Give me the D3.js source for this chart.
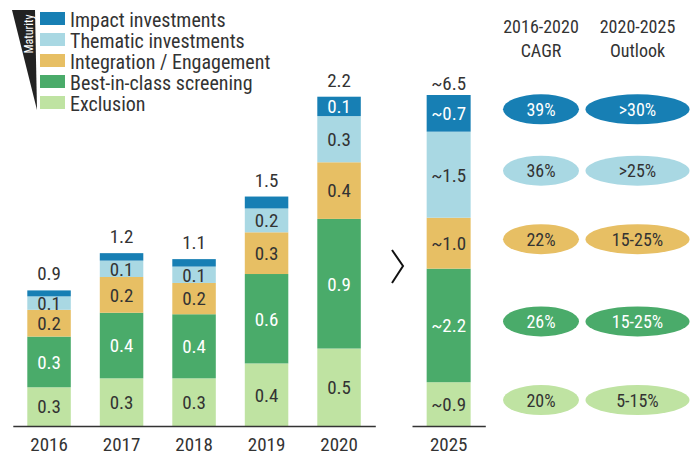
<!DOCTYPE html>
<html>
<head>
<meta charset="utf-8">
<script src="https://cdn.jsdelivr.net/npm/d3@7"></script>
<style>
  body { margin: 0; background: #fff; }
  svg text { font-family: "Roboto Condensed", "Liberation Sans Narrow", "Roboto", sans-serif; }
</style>
</head>
<body>
<svg id="chart"></svg>
<script>
var width = 699;
var height = 461;

// data (heights, labels rounded to one decimal)
var years = ["2016", "2017", "2018", "2019", "2020"];
var categories = ["Exclusion", "Best-in-class screening", "Integration / Engagement", "Thematic investments", "Impact investments"];
var exclusion   = [0.26, 0.32, 0.32, 0.42, 0.52];
var bestInClass = [0.34, 0.44, 0.43, 0.60, 0.87];
var integration = [0.18, 0.24, 0.21, 0.28, 0.38];
var thematic    = [0.09, 0.11, 0.11, 0.16, 0.31];
var impact      = [0.04, 0.05, 0.05, 0.08, 0.13];

var year2025 = "2025";
var values2025 = [0.86, 2.23, 1.0, 1.69, 0.72];
var labels2025 = ["~0.9", "~2.2", "~1.0", "~1.5", "~0.7"];
var total2025 = "~6.5";

var cagr    = ["20%", "26%", "22%", "36%", "39%"];
var outlook = ["5-15%", "15-25%", "15-25%", ">25%", ">30%"];
var headers = [["2016-2020", "CAGR"], ["2020-2025", "Outlook"]];

var colors = ["#bfe3a2", "#4aab6a", "#e7bf64", "#a9d8e3", "#177fb4"];
var textColors = ["#333", "#fff", "#333", "#333", "#fff"];
var series = [exclusion, bestInClass, integration, thematic, impact];

var svg = d3.select("#chart")
  .attr("width", width)
  .attr("height", height);

var fmt = d3.format(".1f");
var base = 426;

// ---- left chart 2016-2020
var x = d3.scaleBand().domain(years).range([12.8, 375.3]).paddingInner(0.4).paddingOuter(0.2);
var y = d3.scaleLinear().domain([0, 2.2]).range([base, base - 2.2 * 149]);

var table = years.map(function(yr, i) {
  var row = { year: yr };
  categories.forEach(function(c, k) { row[c] = series[k][i]; });
  return row;
});
var stacked = d3.stack().keys(categories)(table);

var layers = svg.append("g").selectAll("g")
  .data(stacked)
  .enter().append("g")
  .attr("fill", function(d, k) { return colors[k]; });

layers.selectAll("rect")
  .data(function(d) { return d; })
  .enter().append("rect")
  .attr("x", function(d) { return x(d.data.year); })
  .attr("y", function(d) { return y(d[1]); })
  .attr("width", x.bandwidth())
  .attr("height", function(d) { return y(d[0]) - y(d[1]); });

// segment labels (skip the thin ones)
stacked.forEach(function(layer, k) {
  svg.append("g").selectAll("text")
    .data(layer.filter(function(d) { return y(d[0]) - y(d[1]) > 12.5; }))
    .enter().append("text")
    .attr("x", function(d) { return x(d.data.year) + x.bandwidth() / 2; })
    .attr("y", function(d) { return (y(d[0]) + y(d[1])) / 2; })
    .attr("dy", "0.36em")
    .attr("text-anchor", "middle")
    .style("font-size", "19px")
    .style("fill", textColors[k])
    .text(function(d) { return fmt(d[1] - d[0]); });
});

// totals
var topLayer = stacked[stacked.length - 1];
svg.append("g").selectAll("text")
  .data(topLayer)
  .enter().append("text")
  .attr("x", function(d) { return x(d.data.year) + x.bandwidth() / 2; })
  .attr("y", function(d) { return y(d[1]) - 10; })
  .attr("text-anchor", "middle")
  .style("font-size", "19px")
  .style("fill", "#333")
  .text(function(d) { return fmt(d[1]); });

var xAxis = svg.append("g")
  .attr("transform", "translate(0," + base + ")")
  .call(d3.axisBottom(x).tickSize(0).tickPadding(12));
xAxis.select(".domain").attr("stroke", "#333").attr("stroke-width", 1.5);
xAxis.selectAll("text").style("font-size", "19px").style("fill", "#333")
  .style("font-family", null);

// ---- right chart 2025
var x2 = d3.scaleBand().domain([year2025]).range([412, 485.3]).paddingInner(0.4).paddingOuter(0.2);
var y2 = d3.scaleLinear().domain([0, 6.5]).range([base, 95]);

var cum = 0;
var segs2025 = values2025.map(function(v, k) {
  var s = { k: k, y0: cum, y1: cum + v, label: labels2025[k] };
  cum += v;
  return s;
});

svg.append("g").selectAll("rect")
  .data(segs2025)
  .enter().append("rect")
  .attr("x", x2(year2025))
  .attr("y", function(d) { return y2(d.y1); })
  .attr("width", x2.bandwidth())
  .attr("height", function(d) { return y2(d.y0) - y2(d.y1); })
  .attr("fill", function(d) { return colors[d.k]; });

svg.append("g").selectAll("text")
  .data(segs2025)
  .enter().append("text")
  .attr("x", x2(year2025) + x2.bandwidth() / 2)
  .attr("y", function(d) { return (y2(d.y0) + y2(d.y1)) / 2; })
  .attr("dy", "0.36em")
  .attr("text-anchor", "middle")
  .style("font-size", "19px")
  .style("fill", function(d) { return textColors[d.k]; })
  .text(function(d) { return d.label; });

svg.append("text")
  .attr("x", x2(year2025) + x2.bandwidth() / 2)
  .attr("y", y2(cum) - 5)
  .attr("text-anchor", "middle")
  .style("font-size", "19px")
  .style("fill", "#333")
  .text(total2025);

var xAxis2 = svg.append("g")
  .attr("transform", "translate(0," + base + ")")
  .call(d3.axisBottom(x2).tickSize(0).tickPadding(12));
xAxis2.select(".domain").attr("stroke", "#333").attr("stroke-width", 1.5);
xAxis2.selectAll("text").style("font-size", "19px").style("fill", "#333")
  .style("font-family", null);

// chevron between the two charts
svg.append("path")
  .attr("d", "M392,250 L403,266 L392,283")
  .attr("fill", "none")
  .attr("stroke", "#111")
  .attr("stroke-width", 2);

// ---- growth ellipses
var cols = [541, 637.5];
var radii = [38, 52];
var rows = segs2025.map(function(d) { return (y2(d.y0) + y2(d.y1)) / 2 - 4; });

[cagr, outlook].forEach(function(list, c) {
  var g = svg.append("g");
  g.selectAll("ellipse")
    .data(list)
    .enter().append("ellipse")
    .attr("cx", cols[c])
    .attr("cy", function(d, k) { return rows[k]; })
    .attr("rx", radii[c])
    .attr("ry", 15)
    .attr("fill", function(d, k) { return colors[k]; });
  g.selectAll("text")
    .data(list)
    .enter().append("text")
    .attr("x", cols[c])
    .attr("y", function(d, k) { return rows[k]; })
    .attr("dy", "0.36em")
    .attr("text-anchor", "middle")
    .style("font-size", "18px")
    .style("fill", function(d, k) { return textColors[k]; })
    .text(function(d) { return d; });

  headers[c].forEach(function(line, j) {
    svg.append("text")
      .attr("x", cols[c])
      .attr("y", 33 + j * 24)
      .attr("text-anchor", "middle")
      .style("font-size", "18px")
      .style("fill", "#333")
      .text(line);
  });
});

// ---- legend with maturity wedge
svg.append("path")
  .attr("d", "M12,10 L35,10 L37,110 Z")
  .attr("fill", "#222");
svg.append("text")
  .attr("transform", "translate(32.5,34) rotate(-90)")
  .attr("text-anchor", "middle")
  .style("font-size", "12px")
  .style("fill", "#fff")
  .text("Maturity");

var legendItems = categories.map(function(c, k) { return { name: c, k: k }; }).reverse();
var legend = svg.append("g").selectAll("g")
  .data(legendItems)
  .enter().append("g")
  .attr("transform", function(d, i) { return "translate(40," + (12 + i * 21) + ")"; });
legend.append("rect")
  .attr("width", 25)
  .attr("height", 13)
  .attr("fill", function(d) { return colors[d.k]; });
legend.append("text")
  .attr("x", 30)
  .attr("y", 14.5)
  .style("font-size", "20px")
  .style("fill", "#333")
  .text(function(d) { return d.name; });
</script>
</body>
</html>
